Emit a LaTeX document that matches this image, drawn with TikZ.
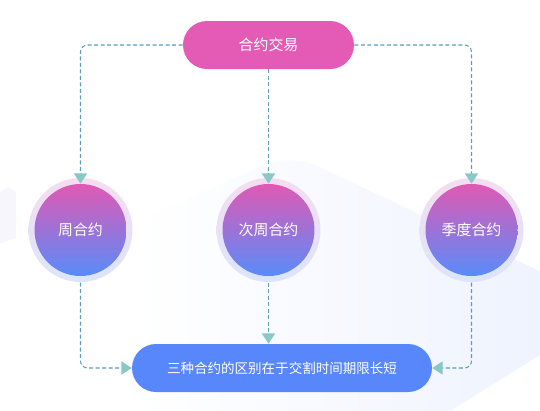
\documentclass[tikz,border=0pt]{standalone}
\usepackage{fontspec}
\newfontfamily\cjk{Noto Sans CJK SC}
\usepackage{tikz}
\usetikzlibrary{arrows.meta, shapes, positioning, calc, backgrounds}
\definecolor{pillpink}{HTML}{E35BB5}
\definecolor{pillblue}{HTML}{5787FB}
\definecolor{ballpink}{HTML}{E059B4}
\definecolor{ballblue}{HTML}{588CFA}
\definecolor{ringpink}{HTML}{F4DDF0}
\definecolor{ringblue}{HTML}{DCE5FC}
\definecolor{linkblue}{HTML}{5C9DB7}
\definecolor{tipteal}{HTML}{88C9C7}
\definecolor{hexblue}{HTML}{EDF2FE}
\definecolor{faintlilac}{HTML}{F7F6FD}

\begin{document}
\begin{tikzpicture}[x=0.02cm, y=-0.02cm,
		pill/.style={rounded corners=0.48cm, minimum height=0.96cm, text=white, font=\cjk\fontsize{8.5}{10}\selectfont},
		ball/.style={circle, minimum size=1.84cm, inner sep=0pt, top color=ballpink, bottom color=ballblue, text=white, font=\cjk\fontsize{8.5}{10}\selectfont},
		link/.style={linkblue, line width=0.6pt, dash pattern=on 2.3pt off 1.4pt, rounded corners=4pt, -{Triangle[width=7.5pt, length=5.8pt, color=tipteal]}}]
			\useasboundingbox (0,0) rectangle (540,410);
			
			% nodes
			\node[pill, fill=pillpink, minimum width=3.42cm] (trade) at (268.5,45) {合约交易};
			\node[ball] (week) at (80.5,230) {周合约};
			\node[ball] (nextweek) at (268.5,230) {次周合约};
			\node[ball] (quarter) at (471.5,230) {季度合约};
			\node[pill, fill=pillblue, minimum width=6.0cm, font=\cjk\fontsize{7.7}{9}\selectfont] (diff) at (282,368) {三种合约的区别在于交割时间期限长短};
			
			% background and rings
			\begin{scope}[on background layer]
				\shade[left color=white, right color=hexblue, rounded corners=0.6cm] (135,420) -- (135,222) -- (290,153) -- (580,290) -- (580,330) -- (420,430) -- cycle;
				\fill[faintlilac] (0,192) -- (9,187) -- (16,192) -- (16,238) -- (0,243) -- cycle;
				\foreach \b in {week,nextweek,quarter}
				\shade[top color=ringpink, bottom color=ringblue] (\b) circle (1.04cm);
			\end{scope}
			
			% links
			\draw[link] (trade.west) -| (week.north);
			\draw[link] (trade.south) -- (nextweek.north);
			\draw[link] (trade.east) -| (quarter.north);
			\draw[link, shorten <=3.5pt] (week.south) |- (diff.west);
			\draw[link, shorten <=3.5pt] (nextweek.south) -- (nextweek.south |- diff.north);
			\draw[link, shorten <=3.5pt] (quarter.south) |- (diff.east);
		\end{tikzpicture}
\end{document}
